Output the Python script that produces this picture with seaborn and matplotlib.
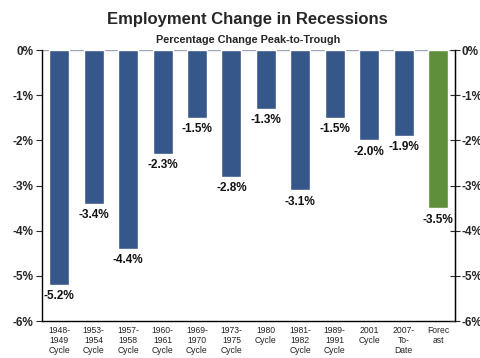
import matplotlib
matplotlib.use("Agg")
import matplotlib.pyplot as plt
import seaborn as sns
import pandas as pd

cycles = ["1948-\n1949\nCycle", "1953-\n1954\nCycle", "1957-\n1958\nCycle",
          "1960-\n1961\nCycle", "1969-\n1970\nCycle", "1973-\n1975\nCycle",
          "1980\nCycle", "1981-\n1982\nCycle", "1989-\n1991\nCycle",
          "2001\nCycle", "2007-\nTo-\nDate", "Forec\nast"]
change = [-5.2, -3.4, -4.4, -2.3, -1.5, -2.8, -1.3, -3.1, -1.5, -2.0, -1.9, -3.5]
kind = ["Past"] * 11 + ["Forecast"]
y_ticks = [0, -1, -2, -3, -4, -5, -6]

df = pd.DataFrame({"cycle": cycles, "change": change, "kind": kind})

sns.set_style("white")
plt.rcParams["font.family"] = ["Liberation Sans", "DejaVu Sans"]

fig = plt.figure(figsize=(4.8, 3.58), dpi=100)
ax = fig.add_axes([0.0875, 0.103, 0.861, 0.757])

sns.barplot(data=df, x="cycle", y="change", hue="kind",
            palette={"Past": "#36578a", "Forecast": "#5f8f3b"},
            width=0.58, dodge=False, legend=False, saturation=1, ax=ax)

for i, v in enumerate(change):
    ax.text(i, v - 0.12, f"{v:.1f}%", ha="center", va="top",
            fontsize=8.5, fontweight="bold", color="#111111")

ax.set_ylim(-6, 0)
ax.set_xlim(-0.5, len(cycles) - 0.5)
ax.set_yticks(y_ticks)
ax.set_yticklabels([f"{t}%" for t in y_ticks], fontsize=8.5, fontweight="bold")
ax.set_xlabel("")
ax.set_ylabel("")
ax.set_xticks(range(len(cycles)))
ax.set_xticklabels(cycles, fontsize=6.2, linespacing=1.12, color="#222222")
ax.tick_params(axis="x", length=0, pad=3.5)
# boundary ticks between categories
ax.set_xticks([i + 0.5 for i in range(-1, len(cycles))], minor=True)
ax.tick_params(axis="x", which="minor", length=4, direction="out", width=0.8)
ax.tick_params(axis="y", length=4, direction="out", width=0.8, pad=2)

for s in ["left", "right", "bottom"]:
    ax.spines[s].set_visible(True)
    ax.spines[s].set_color("black")
    ax.spines[s].set_linewidth(1.0)
ax.spines["top"].set_visible(False)

ax2 = ax.twinx()
ax2.set_ylim(-6, 0)
ax2.set_yticks(y_ticks)
ax2.set_yticklabels([f"{t}%" for t in y_ticks], fontsize=8.5, fontweight="bold")
ax2.tick_params(axis="y", length=7, direction="inout", width=0.8, pad=1)
for s in ax2.spines.values():
    s.set_visible(False)
ax2.spines["right"].set_visible(True)
ax2.spines["right"].set_color("black")

ax.axhline(0, color="#9aa6b8", linewidth=1.0, zorder=0)

fig.text(0.516, 0.945, "Employment Change in Recessions", ha="center", va="center",
         fontsize=12, fontweight="bold")
fig.text(0.516, 0.888, "Percentage Change Peak-to-Trough", ha="center", va="center",
         fontsize=7.8, fontweight="bold")

fig.savefig("out.png", dpi=100)
